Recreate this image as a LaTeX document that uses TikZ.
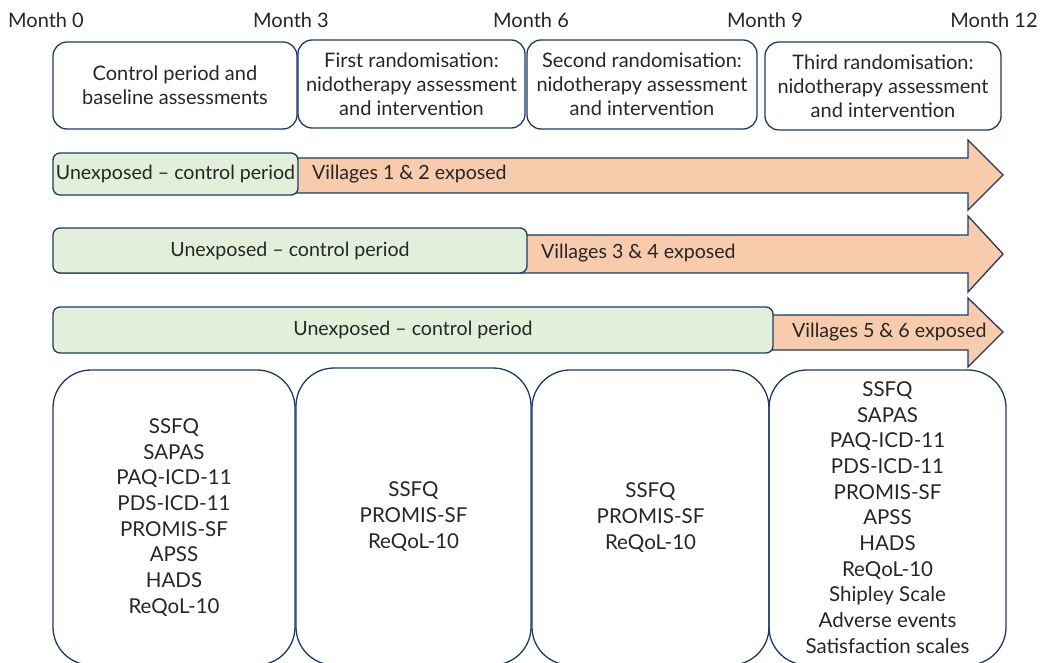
\documentclass[tikz,border=0pt]{standalone}
\usepackage{fontspec}
\setmainfont{Lato}
\definecolor{navy}{HTML}{1F3864}
\definecolor{ctrlgreen}{HTML}{E2EFDA}
\definecolor{exporange}{HTML}{F8CBAD}
\definecolor{ink}{HTML}{262626}
\tikzset{
  month/.style={text=ink, font=\fontsize{20}{24}\selectfont, inner sep=0pt},
  period/.style={draw=navy, line width=1.3pt, rounded corners=14pt, align=center,
    text=ink, font=\fontsize{20}{24}\selectfont, inner sep=0pt},
  ctrl/.style={draw=navy, line width=1.3pt, fill=ctrlgreen, rounded corners=7pt,
    text=ink, font=\fontsize{19.6}{24}\selectfont, inner sep=0pt},
  exposed/.style={draw=navy, line width=1.3pt, fill=exporange, line join=miter},
  explabel/.style={anchor=west, text=ink, font=\fontsize{19.6}{24}\selectfont, inner sep=0pt},
  measures/.style={draw=navy, line width=1.3pt, rounded corners=38pt, align=center,
    text=ink, font=\fontsize{20.5}{25.7}\selectfont, inner sep=0pt}
}
\begin{document}
\begin{tikzpicture}[x=1pt,y=-1pt]
\clip (0,0) rectangle (1040,663);

% months
\foreach \m/\x in {0/46,3/291,6/531,9/765,12/994}
  \node[month] (month\m) at (\x,20) {Month \m};

% periods
\node[period, minimum width=244pt, minimum height=87pt] (ctrlper) at (175,85.5)
  {Control period and\\baseline assessments};
\node[period, minimum width=227pt, minimum height=88pt] (rand1) at (411.5,84)
  {First randomisation:\\nidotherapy assessment\\and intervention};
\node[period, minimum width=230pt, minimum height=89pt] (rand2) at (642,84.5)
  {Second randomisation:\\nidotherapy assessment\\and intervention};
\node[period, minimum width=236pt, minimum height=88pt] (rand3) at (883,86)
  {Third randomisation:\\nidotherapy assessment\\and intervention};

% exposure arrows
\draw[exposed] (60,158) -- (968,158) -- (968,140) -- (1003,175) -- (968,210)
  -- (968,193) -- (60,193) -- cycle;
\draw[exposed] (60,235) -- (968,235) -- (968,216) -- (1003,254) -- (968,292)
  -- (968,273) -- (60,273) -- cycle;
\draw[exposed] (60,315) -- (968,315) -- (968,298) -- (1003,332) -- (968,367)
  -- (968,350) -- (60,350) -- cycle;

\node[ctrl, minimum width=245pt, minimum height=42pt] (unexp1) at (175.5,174)
  {Unexposed – control period};
\node[ctrl, minimum width=474pt, minimum height=45pt] (unexp2) at (290,250.5)
  {Unexposed – control period};
\node[ctrl, minimum width=720pt, minimum height=46pt] (unexp3) at (413,330)
  {Unexposed – control period};

\node[explabel] (vill12) at (312,174) {Villages 1 \& 2 exposed};
\node[explabel] (vill34) at (541,253) {Villages 3 \& 4 exposed};
\node[explabel] (vill56) at (792,332) {Villages 5 \& 6 exposed};

% measures
\node[measures, minimum width=242pt, minimum height=295pt] (meas0) at (174,517.5)
  {SSFQ\\SAPAS\\PAQ-ICD-11\\PDS-ICD-11\\PROMIS-SF\\APSS\\HADS\\ReQoL-10};
\node[measures, minimum width=235pt, minimum height=297pt] (meas3) at (413.5,516.5)
  {SSFQ\\PROMIS-SF\\ReQoL-10};
\node[measures, minimum width=237pt, minimum height=295pt] (meas6) at (650.5,517.5)
  {SSFQ\\PROMIS-SF\\ReQoL-10};
\node[measures, minimum width=237pt, minimum height=295pt] (meas9) at (887.5,517.5)
  {SSFQ\\SAPAS\\PAQ-ICD-11\\PDS-ICD-11\\PROMIS-SF\\APSS\\HADS\\ReQoL-10\\Shipley Scale\\Adverse events\\Satisfaction scales};
\end{tikzpicture}
\end{document}
